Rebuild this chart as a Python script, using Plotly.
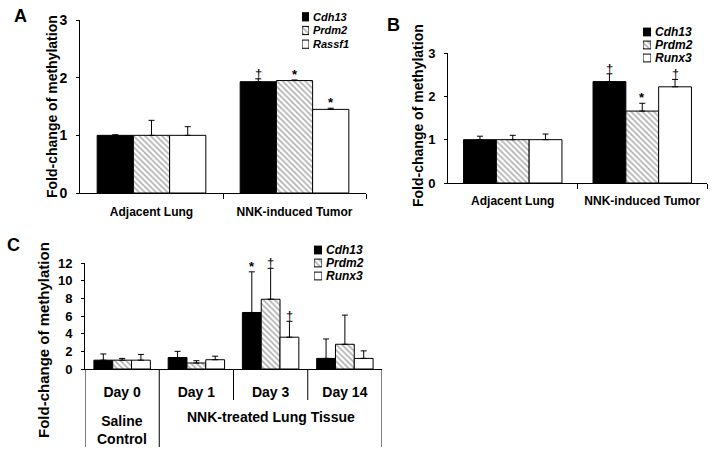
import plotly.graph_objects as go

W, H = 714, 463
FONT = "Liberation Sans"

# ---------------- data ----------------
genes_A = ["Cdh13", "Prdm2", "Rassf1"]
cats_A = ["Adjacent Lung", "NNK-induced Tumor"]
vals_A = {"Cdh13": [1.0, 1.93], "Prdm2": [1.0, 1.95], "Rassf1": [1.0, 1.45]}
errs_A = {"Cdh13": [0.01, 0.05], "Prdm2": [0.26, 0.01], "Rassf1": [0.15, 0.02]}
sig_A = {"Cdh13": ["", "†"], "Prdm2": ["", "*"], "Rassf1": ["", "*"]}

genes_B = ["Cdh13", "Prdm2", "Runx3"]
cats_B = ["Adjacent Lung", "NNK-induced Tumor"]
vals_B = {"Cdh13": [1.0, 2.34], "Prdm2": [1.0, 1.66], "Runx3": [1.0, 2.22]}
errs_B = {"Cdh13": [0.08, 0.18], "Prdm2": [0.10, 0.18], "Runx3": [0.13, 0.17]}
sig_B = {"Cdh13": ["", "†"], "Prdm2": ["", "*"], "Runx3": ["", "†"]}

genes_C = ["Cdh13", "Prdm2", "Runx3"]
cats_C = ["Day 0", "Day 1", "Day 3", "Day 14"]
vals_C = {"Cdh13": [1.0, 1.3, 6.4, 1.2], "Prdm2": [1.0, 0.68, 7.9, 2.8], "Runx3": [1.0, 1.05, 3.6, 1.2]}
errs_C = {"Cdh13": [0.7, 0.7, 4.6, 2.2], "Prdm2": [0.2, 0.26, 3.5, 3.3], "Runx3": [0.65, 0.4, 1.8, 0.85]}
sig_C = {"Cdh13": ["", "", "*", ""], "Prdm2": ["", "", "†", ""], "Runx3": ["", "", "†", ""]}

# legend swatch length (drawn as a tiny bar per gene in a small legend axis)
SWATCH = [1]

# ---------------- styles ----------------
BARGAP = 0.24


def marker_for(i):
    if i == 0:
        return dict(color="black", line=dict(color="black", width=1))
    if i == 1:
        return dict(color="white", line=dict(color="black", width=1),
                    pattern=dict(shape="\\", fgcolor="#606060", bgcolor="white", size=4, solidity=0.4))
    return dict(color="white", line=dict(color="black", width=1))


def fx(p):
    return p / W


def fy(p):
    return 1 - p / H


fig = go.Figure()
annotations = []
shapes = []

panels = [
    ("x", "y", genes_A, cats_A, vals_A, errs_A, sig_A),
    ("x2", "y2", genes_B, cats_B, vals_B, errs_B, sig_B),
    ("x3", "y3", genes_C, cats_C, vals_C, errs_C, sig_C),
]

for xa, ya, genes, cats, vals, errs, sigs in panels:
    n = len(genes)
    bw = (1 - BARGAP) / n
    for i, g in enumerate(genes):
        xs = list(range(len(cats)))
        fig.add_trace(go.Bar(
            x=xs, y=vals[g], name=g, xaxis=xa, yaxis=ya, showlegend=False,
            marker=marker_for(i),
            error_y=dict(type="data", symmetric=False, array=errs[g],
                         arrayminus=[0] * len(cats), color="black", thickness=1, width=3),
        ))
        off = (i - (n - 1) / 2) * bw
        for j, s in enumerate(sigs[g]):
            if s:
                annotations.append(dict(
                    x=j + off, y=vals[g][j] + errs[g][j], xref=xa, yref=ya,
                    text=s, showarrow=False, yanchor="bottom", yshift=-3, borderpad=0,
                    font=dict(family=FONT, size=13, color="black",
                              weight="normal" if s == "†" else "bold")))

# legend swatches: small horizontal bars in dedicated axes, gene names as tick labels
legend_specs = [
    ("x4", "y4", genes_A, (302, 309), (10, 51), 11),
    ("x5", "y5", genes_B, (643, 651), (25.5, 64.5), 12),
    ("x6", "y6", genes_C, (314, 322), (243.5, 282.5), 12),
]
for xa, ya, genes, _, _, _ in legend_specs:
    for i, g in enumerate(genes):
        fig.add_trace(go.Bar(
            x=SWATCH, y=[g], orientation="h", xaxis=xa, yaxis=ya, showlegend=False,
            marker=marker_for(i), width=0.6, offsetgroup="leg" + xa, hoverinfo="skip"))

axis_common = dict(showline=True, linecolor="black", linewidth=1, showgrid=False,
                   zeroline=False, mirror=False, automargin=False)
tickfont = dict(family=FONT, size=13, color="black", weight="bold")

fig.update_layout(
    width=W, height=H, margin=dict(l=0, r=0, t=0, b=0, autoexpand=False),
    paper_bgcolor="white", plot_bgcolor="white", showlegend=False,
    barmode="group", bargap=BARGAP, bargroupgap=0,
    xaxis=dict(domain=[fx(80), fx(366)], range=[-0.5, 1.5], anchor="y",
               tickvals=list(range(len(cats_A))), ticktext=cats_A, ticks="", ticklabelstandoff=8,
               ticklabeloverflow="allow",
               tickfont=dict(family=FONT, size=12, color="black", weight="bold"),
               minor=dict(tickvals=[i + 0.5 for i in range(len(cats_A))], ticks="outside",
                          ticklen=5, tickcolor="black"),
               **axis_common),
    yaxis=dict(domain=[fy(193), fy(20)], range=[0, 3], anchor="x", tickvals=[0, 1, 2, 3],
               ticks="outside", ticklen=3, tickcolor="black",
               tickfont=dict(family=FONT, size=14, color="black", weight="bold"),
               ticklabelstandoff=6, **axis_common),
    xaxis2=dict(domain=[fx(448), fx(707)], range=[-0.5, 1.5], anchor="y2",
                tickvals=list(range(len(cats_B))), ticktext=cats_B, ticks="", ticklabelstandoff=7,
                ticklabeloverflow="allow",
                tickfont=dict(family=FONT, size=12, color="black", weight="bold"),
                minor=dict(tickvals=[i + 0.5 for i in range(len(cats_B))], ticks="outside",
                           ticklen=5, tickcolor="black"),
                **axis_common),
    yaxis2=dict(domain=[fy(183), fy(53)], range=[0, 3], anchor="x2", tickvals=[0, 1, 2, 3],
                ticks="outside", ticklen=3, tickcolor="black", tickfont=tickfont,
                ticklabelstandoff=6, **axis_common),
    xaxis3=dict(domain=[fx(85), fx(382)], range=[-0.5, len(cats_C) - 0.5], anchor="y3",
                tickvals=list(range(len(cats_C))), ticktext=cats_C, ticks="", ticklabelstandoff=10,
                ticklabeloverflow="allow",
                tickfont=dict(family=FONT, size=14, color="black", weight="bold"),
                **axis_common),
    yaxis3=dict(domain=[fy(369), fy(263)], range=[0, 12], anchor="x3", tickvals=[0, 2, 4, 6, 8, 10, 12],
                ticks="outside", ticklen=3, tickcolor="black", tickfont=tickfont,
                ticklabelstandoff=6, **axis_common),
)

for xa, ya, genes, (x0, x1), (y0, y1), fs in legend_specs:
    xkey = "xaxis" + xa[1:]
    ykey = "yaxis" + ya[1:]
    fig.update_layout(**{
        xkey: dict(domain=[fx(x0), fx(x1)], range=[0, 1], anchor=ya, visible=False, fixedrange=True),
        ykey: dict(domain=[fy(y1), fy(y0)], anchor=xa, type="category", categoryorder="array",
                   categoryarray=genes, autorange="reversed", side="right", showline=False,
                   tickmode="array", tickvals=genes, ticktext=genes,
                   showgrid=False, zeroline=False, ticks="", ticklabelstandoff=3, automargin=False,
                   ticklabeloverflow="allow", fixedrange=True,
                   tickfont=dict(family=FONT, size=fs, color="black", weight="bold", style="italic")),
    })

# y-axis titles and panel letters
ytitle = "Fold-change of methylation"
for x, y, size in [(52, 107, 14), (418, 116, 14), (43, 340, 15)]:
    annotations.append(dict(x=fx(x), y=fy(y), xref="paper", yref="paper", text=ytitle,
                            textangle=-90, showarrow=False, xanchor="center", yanchor="middle",
                            font=dict(family=FONT, size=size, color="black", weight="bold")))
for x, y, t in [(20, 16, "A"), (393, 25, "B"), (13, 245, "C")]:
    annotations.append(dict(x=fx(x), y=fy(y), xref="paper", yref="paper", text=t, showarrow=False,
                            xanchor="center", yanchor="middle",
                            font=dict(family=FONT, size=18, color="black", weight="bold")))

# panel C group labels and divider lines
annotations.append(dict(x=0, y=fy(430), xref="x3", yref="paper", text="Saline<br>Control",
                        showarrow=False, xanchor="center", yanchor="middle",
                        font=dict(family=FONT, size=14, color="black", weight="bold")))
annotations.append(dict(x=(1 + len(cats_C) - 1) / 2, y=fy(417), xref="x3", yref="paper",
                        text="NNK-treated Lung Tissue", showarrow=False, xanchor="center", yanchor="middle",
                        font=dict(family=FONT, size=14, color="black", weight="bold")))
bounds = [i - 0.5 for i in range(len(cats_C) + 1)]
for k, b in enumerate(bounds):
    long = k in (0, 1, len(bounds) - 1)
    shapes.append(dict(type="line", xref="x3", yref="paper", x0=b, x1=b,
                       y0=fy(369), y1=fy(447 if long else 400),
                       line=dict(color="black", width=1)))

fig.update_layout(annotations=annotations, shapes=shapes)
fig.write_html("out.html", config={"displayModeBar": False},
               post_script="document.body.style.margin='0';document.body.style.overflow='hidden';")
